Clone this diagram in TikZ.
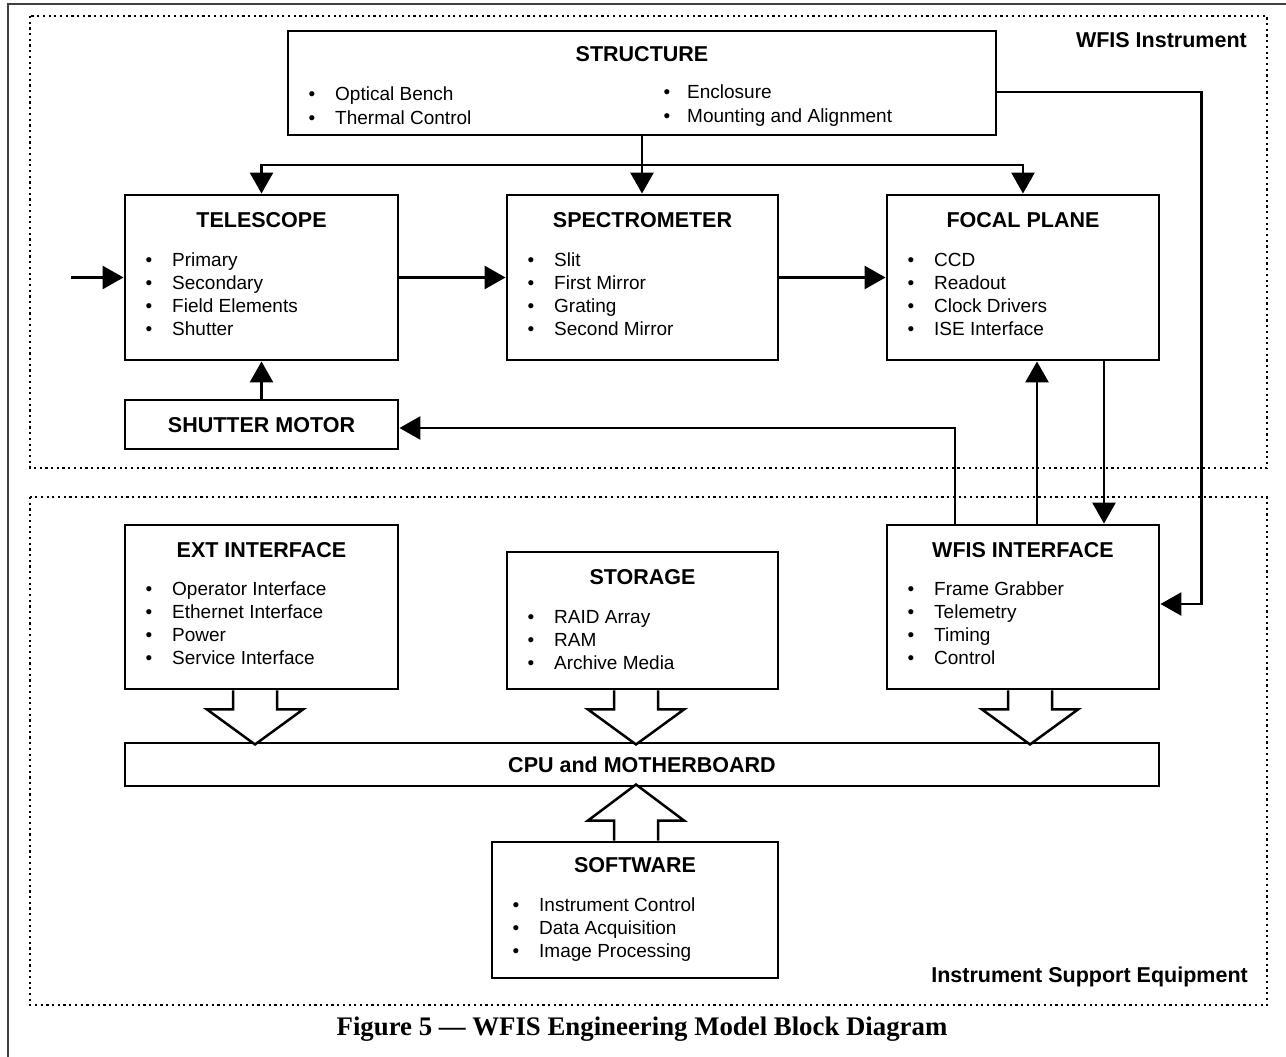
\documentclass[tikz,border=0pt]{standalone}
\usepackage{fontspec}
\setmainfont{Liberation Sans}
\newfontfamily\capfont{Liberation Serif}
\usetikzlibrary{arrows.meta,calc}
\newcommand\itemsat[5]{%
  \foreach \t [count=\i] in {#5} {
    \pgfmathsetmacro\yy{#4+(\i-1)*23.3}
    \node[bul] (#1b\i) at (#2,\yy) {•};
    \node[itm] (#1t\i) at (#3,\yy) {\t};
  }}
\begin{document}
\begin{tikzpicture}[x=1pt,y=-1pt,
  blkbox/.style={draw,line width=2.9pt,inner sep=0pt,rectangle},
  ttl/.style={font=\fontsize{21.5}{24}\selectfont\bfseries,anchor=base,inner sep=0pt},
  itm/.style={font=\fontsize{19}{23}\selectfont,anchor=base west,inner sep=0pt},
  bul/.style={font=\fontsize{19}{23}\selectfont,anchor=base,inner sep=0pt},
  lbl/.style={font=\fontsize{21.5}{24}\selectfont\bfseries,inner sep=0pt},
  conn/.style={line width=2.8pt,-{Triangle[length=21pt,width=23pt]}},
  blk/.style={line width=2.5pt,fill=white,line join=miter},
  dotbox/.style={line width=2.2pt,dash pattern=on 2.2pt off 3.5pt},
  frame/.style={line width=2.2pt,draw=black!75}]
\useasboundingbox (0,0) rectangle (1286,1057);
% outer frame
\draw[frame] (8,1060) -- (8,4) -- (1290,4);
% dotted group boxes
\draw[dotbox] (30,16) rectangle (1267,468);
\draw[dotbox] (30,497) rectangle (1267,1005);
\node[lbl,anchor=base east] (lblA) at (1247,48) {WFIS Instrument};
\node[lbl,anchor=base east] (lblB) at (1248,982) {Instrument Support Equipment};
% boxes
\node[blkbox,minimum width=708pt,minimum height=104pt] (struct) at (642,83) {};
\node[blkbox,minimum width=273pt,minimum height=165pt] (tel) at (261.5,277.5) {};
\node[blkbox,minimum width=271pt,minimum height=165pt] (spec) at (642.5,277.5) {};
\node[blkbox,minimum width=272pt,minimum height=165pt] (fp) at (1023,277.5) {};
\node[blkbox,minimum width=273pt,minimum height=49pt] (motor) at (261.5,424.5) {};
\node[blkbox,minimum width=273pt,minimum height=164pt] (ext) at (261.5,607) {};
\node[blkbox,minimum width=271pt,minimum height=137pt] (stor) at (642.5,620.5) {};
\node[blkbox,minimum width=272pt,minimum height=164pt] (wfisif) at (1023,607) {};
\node[blkbox,minimum width=1034pt,minimum height=43pt] (cpu) at (642,764.5) {};
\node[blkbox,minimum width=286pt,minimum height=136pt] (soft) at (635,910) {};
% titles
\node[ttl] (structh) at (642,62) {STRUCTURE};
\node[ttl] (telh) at (261.5,227) {TELESCOPE};
\node[ttl] (spech) at (642.5,227) {SPECTROMETER};
\node[ttl] (fph) at (1023,227) {FOCAL PLANE};
\node[ttl] (motorh) at (261.5,432) {SHUTTER MOTOR};
\node[ttl] (exth) at (261.5,557) {EXT INTERFACE};
\node[ttl] (storh) at (642.5,584) {STORAGE};
\node[ttl] (wfish) at (1023,557) {WFIS INTERFACE};
\node[ttl] (cpuh) at (642,772.5) {CPU and MOTHERBOARD};
\node[ttl] (softh) at (635,872) {SOFTWARE};
% items
\itemsat{sl}{312}{335}{101}{Optical Bench,Thermal Control}
\itemsat{sr}{667}{687}{99}{Enclosure,Mounting and Alignment}
\itemsat{te}{149}{172}{266}{Primary,Secondary,Field Elements,Shutter}
\itemsat{sp}{531}{554}{266}{Slit,First Mirror,Grating,Second Mirror}
\itemsat{fo}{911}{934}{266}{CCD,Readout,Clock Drivers,ISE Interface}
\itemsat{ex}{149}{172}{595}{Operator Interface,Ethernet Interface,Power,Service Interface}
\itemsat{st}{531}{554}{623}{RAID Array,RAM,Archive Media}
\itemsat{wf}{911}{934}{595}{Frame Grabber,Telemetry,Timing,Control}
\itemsat{so}{516}{539}{911}{Instrument Control,Data Acquisition,Image Processing}
% connectors
\coordinate (hub) at (642,165);
\coordinate (inp) at (71,277.5);
\draw[conn] (struct.south) -- (struct.south |- spec.north);
\draw[conn] (hub) -| (tel.north);
\draw[conn] (hub) -| (fp.north);
\draw[conn] (inp) -- (tel.west);
\draw[conn] (tel.east) -- (spec.west);
\draw[conn] (spec.east) -- (fp.west);
\draw[conn] (motor.north) -- (tel.south);
\draw[conn] ([xshift=-68pt]wfisif.north) |- ([yshift=-3.5pt]motor.east);
\draw[conn] ([xshift=14pt]wfisif.north) -- ([xshift=14pt]fp.south);
\draw[conn] ([xshift=81pt]fp.south) -- ([xshift=81pt]wfisif.north);
\draw[conn] ([yshift=-9pt]struct.east) -- ++(204,0) |- ([yshift=3pt]wfisif.east);
% block arrows
\draw[blk] ([xshift=-28.5pt]ext.south) -- ++(0,19) -- ++(-26,0) -- ++(48,35) -- ++(48,-35) -- ++(-26,0) -- ++(0,-19);
\draw[blk] ([xshift=-28.5pt]stor.south) -- ++(0,19) -- ++(-26,0) -- ++(48,35) -- ++(48,-35) -- ++(-26,0) -- ++(0,-19);
\draw[blk] ([xshift=-15pt]wfisif.south) -- ++(0,19) -- ++(-26,0) -- ++(48,35) -- ++(48,-35) -- ++(-26,0) -- ++(0,-19);
\draw[blk] ([xshift=-21pt]soft.north) -- ++(0,-20) -- ++(-26,0) -- ++(48,-36) -- ++(48,36) -- ++(-26,0) -- ++(0,20);
% caption
\node[anchor=base,inner sep=0pt,font=\capfont\fontsize{26.8}{30}\selectfont\bfseries] (cap) at (642,1035) {Figure 5 — WFIS Engineering Model Block Diagram};
\end{tikzpicture}
\end{document}
